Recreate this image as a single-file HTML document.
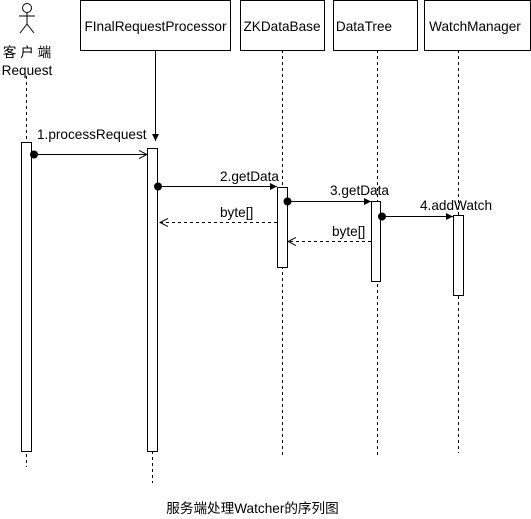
<!DOCTYPE html>
<html><head><style>body{margin:0;background:#fff}svg{display:block}text{font-family:"Liberation Sans","Noto Sans CJK SC",sans-serif;font-size:13.6px;fill:#000}</style></head>
<body>
<svg width="531" height="519" xmlns="http://www.w3.org/2000/svg">
<defs>
<marker id="f" markerWidth="8" markerHeight="8" refX="7" refY="4" orient="auto" markerUnits="userSpaceOnUse"><path d="M0,0.5 L7,4 L0,7.5 Z" fill="#000"/></marker>
<marker id="o" markerWidth="9" markerHeight="10" refX="8" refY="5" orient="auto" markerUnits="userSpaceOnUse"><path d="M0,1 L8,5 L0,9" fill="none" stroke="#000"/></marker>
</defs>
<g stroke="#000" fill="none">
<circle cx="27" cy="8" r="4.5"/>
<line x1="27" y1="12.5" x2="27" y2="24"/>
<line x1="19" y1="16" x2="35" y2="16"/>
<line x1="27" y1="24" x2="20" y2="33"/>
<line x1="27" y1="24" x2="34" y2="33"/>
<rect x="80.5" y="0.5" width="150" height="50" fill="#fff"/>
<rect x="240.5" y="0.5" width="84" height="50" fill="#fff"/>
<rect x="333.5" y="0.5" width="84" height="50" fill="#fff"/>
<rect x="424.5" y="0.5" width="106" height="50" fill="#fff"/>
<line x1="26.5" y1="76" x2="26.5" y2="467" stroke-dasharray="3,3"/>
<line x1="155.5" y1="50" x2="155.5" y2="141" marker-end="url(#f)"/>
<line x1="152.5" y1="451" x2="152.5" y2="483" stroke-dasharray="3,3"/>
<line x1="282.5" y1="50" x2="282.5" y2="455" stroke-dasharray="3,3"/>
<line x1="377.5" y1="50" x2="377.5" y2="458" stroke-dasharray="3,3"/>
<line x1="458.5" y1="50" x2="458.5" y2="453" stroke-dasharray="3,3"/>
<rect x="21.5" y="142.5" width="10" height="309" fill="#fff"/>
<rect x="147.5" y="148.5" width="10" height="303" fill="#fff"/>
<rect x="277.5" y="187.5" width="10" height="80" fill="#fff"/>
<rect x="371.5" y="201.5" width="9" height="80" fill="#fff"/>
<rect x="453.5" y="215.5" width="10" height="80" fill="#fff"/>
<line x1="34" y1="154.5" x2="147" y2="154.5" marker-end="url(#o)"/>
<line x1="159" y1="186.5" x2="277" y2="186.5" marker-end="url(#f)"/>
<line x1="289" y1="201.5" x2="371" y2="201.5" marker-end="url(#f)"/>
<line x1="383" y1="216.5" x2="453" y2="216.5" marker-end="url(#f)"/>
<line x1="277" y1="222.5" x2="160" y2="222.5" stroke-dasharray="3,3" marker-end="url(#o)"/>
<line x1="371" y1="241.5" x2="288" y2="241.5" stroke-dasharray="3,3" marker-end="url(#o)"/>
</g>
<g fill="#000">
<circle cx="34" cy="154.5" r="4"/>
<circle cx="158" cy="186.5" r="4"/>
<circle cx="287.5" cy="201.5" r="4"/>
<circle cx="382" cy="216.5" r="4"/>
</g>
<text x="27" y="57" text-anchor="middle">客 户 端</text>
<text x="27" y="75" text-anchor="middle">Request</text>
<text x="155.5" y="31" text-anchor="middle">FInalRequestProcessor</text>
<text x="282" y="31" text-anchor="middle">ZKDataBase</text>
<text x="364" y="31" text-anchor="middle">DataTree</text>
<text x="475" y="31" text-anchor="middle">WatchManager</text>
<text x="37" y="139">1.processRequest</text>
<text x="220" y="181">2.getData</text>
<text x="330" y="195">3.getData</text>
<text x="420" y="210">4.addWatch</text>
<text x="220" y="217">byte[]</text>
<text x="332" y="236">byte[]</text>
<text x="252.5" y="513" text-anchor="middle">服务端处理Watcher的序列图</text>
</svg>
</body></html>
